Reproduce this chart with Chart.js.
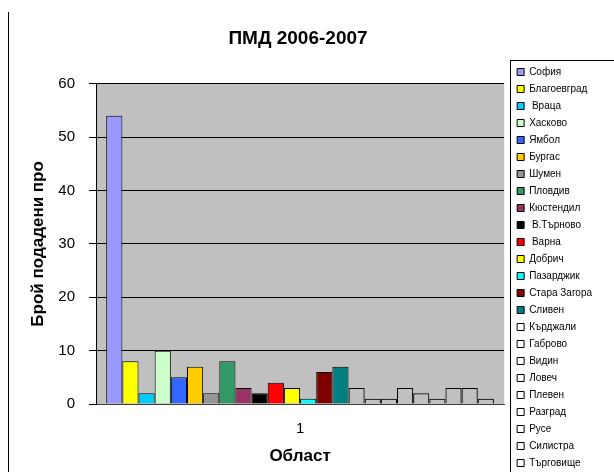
<!DOCTYPE html>
<html>
<head>
<meta charset="utf-8">
<script src="https://cdn.jsdelivr.net/npm/chart.js@4/dist/chart.umd.min.js"></script>
<style>
  body { margin: 0; background: #fff; }
  #pmd-chart { display: block; }
</style>
</head>
<body>
<canvas id="pmd-chart" width="614" height="472"></canvas>
<script>
const categories = ['1'];
const regions = ['София', 'Благоевград', ' Враца', 'Хасково', 'Ямбол', 'Бургас', 'Шумен', 'Пловдив',
    'Кюстендил', ' В.Търново', ' Варна', 'Добрич', 'Пазарджик', 'Стара Загора', 'Сливен',
    'Кърджали', 'Габрово', 'Видин', 'Ловеч', 'Плевен', 'Разград', 'Русе', 'Силистра', 'Търговище'];
const submitted = [54, 8, 2, 10, 5, 7, 2, 8, 3, 2, 4, 3, 1, 6, 7, 3, 1, 1, 3, 2, 1, 3, 3, 1];
const regionColors = ['#9999FF', '#FFFF00', '#00CCFF', '#CCFFCC', '#3366FF', '#FFCC00', '#969696', '#339966',
    '#993366', '#000000', '#FF0000', '#FFFF00', '#00FFFF', '#800000', '#008080',
    'transparent', 'transparent', 'transparent', 'transparent', 'transparent',
    'transparent', 'transparent', 'transparent', 'transparent'];

const chartTitle = 'ПМД 2006-2007';
const yTitle = 'Брой подадени про';
const xTitle = 'Област';

const fontFamily = '"Liberation Sans", Arial, sans-serif';

const plotBackground = {
    id: 'plotBackground',
    afterLayout(chart) {
        // legend sits a little right of the plot, as in the original
        const legend = chart.legend;
        legend.left += 6;
        legend.right += 6;
        legend.top += 3;
        legend.bottom += 3;
    },
    beforeDraw(chart) {
        const {ctx, chartArea} = chart;
        ctx.save();
        ctx.fillStyle = '#C0C0C0';
        ctx.fillRect(chartArea.left, chartArea.top, chartArea.right - chartArea.left, chartArea.bottom - chartArea.top);
        ctx.restore();
    },
    afterDraw(chart) {
        const ctx = chart.ctx;
        const legend = chart.legend;
        const boxes = legend.legendHitBoxes;
        const first = boxes[0];
        const last = boxes[boxes.length - 1];
        const top = Math.round(first.top) - 6.5;
        const bottom = Math.round(last.top + last.height) + 8.5;
        ctx.save();
        ctx.strokeStyle = '#000';
        ctx.lineWidth = 1;
        // legend frame
        ctx.strokeRect(Math.round(legend.left) + 0.5, top, 200, bottom - top);
        // left edge of the chart frame
        ctx.beginPath();
        ctx.moveTo(8.5, 12);
        ctx.lineTo(8.5, 472);
        ctx.stroke();
        ctx.restore();
    }
};

new Chart(document.getElementById('pmd-chart'), {
    type: 'bar',
    data: {
        labels: categories,
        datasets: regions.map((name, i) => ({
            label: name,
            data: [submitted[i]],
            backgroundColor: regionColors[i],
            borderColor: '#000',
            borderWidth: 1,
            categoryPercentage: 0.95,
            barPercentage: 1
        }))
    },
    options: {
        responsive: false,
        animation: false,
        layout: {
            padding: { left: 0, right: 18, top: 0, bottom: 0 }
        },
        scales: {
            x: {
                grid: { display: false, drawTicks: false },
                border: { display: true, color: '#404040' },
                ticks: { color: '#000', padding: 16, font: { family: fontFamily, size: 15 } },
                title: {
                    display: true,
                    text: xTitle,
                    color: '#000',
                    padding: { top: 0, bottom: 5 },
                    font: { family: fontFamily, size: 17, weight: 'bold' }
                },
                afterFit(scale) { scale.height = 68; }
            },
            y: {
                min: 0,
                max: 60,
                ticks: { stepSize: 10, color: '#000', padding: 14, font: { family: fontFamily, size: 15 } },
                grid: { color: '#000', tickLength: 7, tickColor: '#000' },
                border: { display: true, color: '#000' },
                title: {
                    display: true,
                    text: yTitle,
                    color: '#000',
                    padding: { top: 28, bottom: 0 },
                    font: { family: fontFamily, size: 17, weight: 'bold' }
                },
                afterFit(scale) { scale.width = 96; }
            }
        },
        plugins: {
            title: {
                display: true,
                text: chartTitle,
                color: '#000',
                padding: { top: 27, bottom: 34 },
                font: { family: fontFamily, size: 19, weight: 'bold' }
            },
            legend: {
                position: 'right',
                align: 'end',
                labels: {
                    color: '#000',
                    boxWidth: 7,
                    boxHeight: 7,
                    padding: 7,
                    font: { family: fontFamily, size: 10 }
                }
            },
            tooltip: { enabled: false }
        }
    },
    plugins: [plotBackground]
});
</script>
</body>
</html>
